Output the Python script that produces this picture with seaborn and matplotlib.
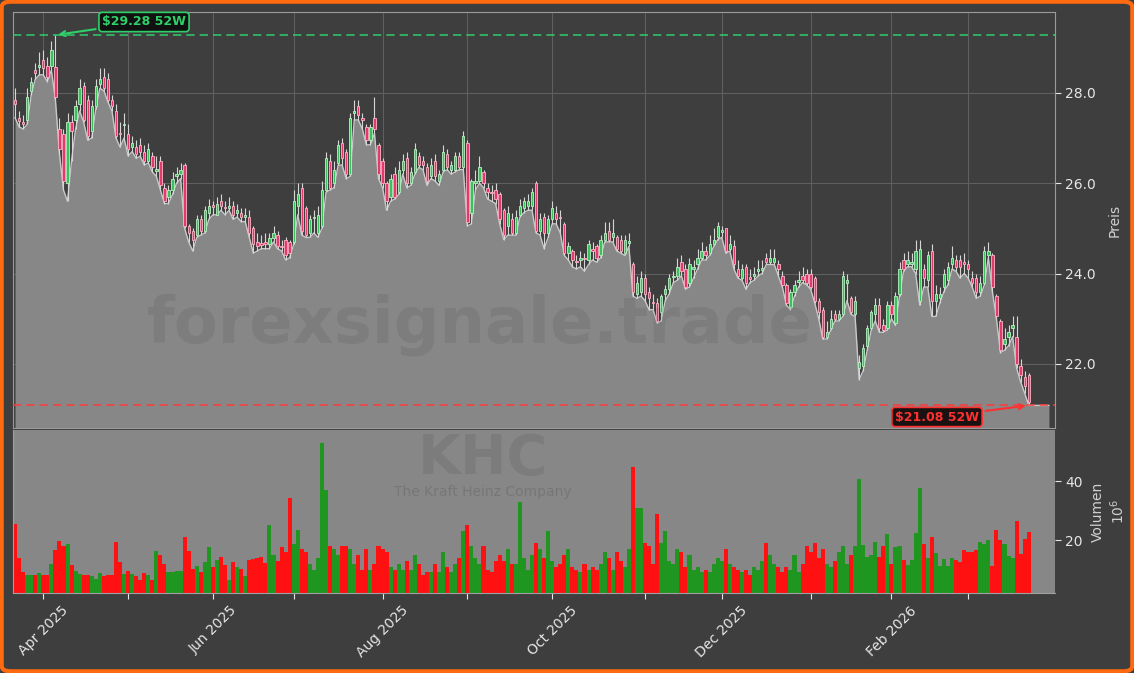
import numpy as np
import pandas as pd
import matplotlib
matplotlib.use("Agg")
import matplotlib.pyplot as plt
from matplotlib.patches import FancyBboxPatch
import seaborn as sns

# ---------------- data ----------------
start_date = "2025-03-21"
end_date = "2026-03-23"
market_holidays = ["2025-04-18", "2025-05-26", "2025-06-19", "2025-07-04", "2025-09-01",
                   "2025-11-27", "2025-12-25", "2026-01-01", "2026-01-19", "2026-02-16"]

opens = [27.85, 27.45, 27.35, 27.40, 28.05, 28.50, 28.58, 28.72, 28.60, 28.60,
         28.58, 27.20, 27.10, 26.00, 27.35, 27.40, 27.75, 28.15, 27.85, 27.15,
         27.70, 28.20, 28.35, 28.30, 27.85, 27.60, 27.12, 27.28, 27.10, 26.80,
         26.80, 26.85, 26.70, 26.50, 26.60, 26.28, 26.50, 25.90, 25.70, 25.85,
         26.15, 26.20, 26.40, 25.05, 24.95, 24.85, 25.20, 24.95, 25.35, 25.52,
         25.30, 25.60, 25.47, 25.45, 25.50, 25.33, 25.35, 25.26, 25.25, 25.00,
         24.70, 24.67, 24.70, 24.65, 24.78, 24.85, 24.62, 24.75, 24.70, 24.70,
         25.50, 25.90, 25.45, 24.90, 25.22, 24.90, 25.05, 25.85, 26.50, 26.00,
         26.45, 26.90, 26.70, 26.20, 27.55, 27.70, 27.45, 27.25, 26.95, 27.45,
         26.85, 26.50, 26.00, 25.70, 26.20, 25.80, 26.30, 26.55, 26.00, 26.25,
         26.60, 26.50, 26.35, 26.15, 26.50, 26.05, 26.30, 26.65, 26.30, 26.30,
         26.60, 26.35, 26.90, 25.35, 26.00, 26.05, 26.25, 25.90, 25.80, 25.85,
         25.75, 25.40, 25.05, 25.20, 24.90, 25.30, 25.45, 25.50, 25.50, 26.00,
         24.95, 25.25, 24.90, 25.20, 25.35, 25.25, 25.10, 24.45, 24.50, 24.28,
         24.30, 24.34, 24.30, 24.55, 24.60, 24.40, 24.75, 24.95, 24.80, 24.80,
         24.75, 24.45, 24.68, 24.20, 23.55, 23.60, 23.90, 23.60, 23.38, 23.35,
         23.15, 23.55, 23.65, 23.92, 23.95, 24.25, 24.10, 23.80, 24.10, 24.20,
         24.35, 24.50, 24.45, 24.65, 24.80, 24.93, 25.00, 24.55, 24.60, 24.10,
         23.90, 24.15, 23.92, 23.95, 24.05, 24.08, 24.35, 24.25, 24.25, 24.20,
         23.95, 23.75, 23.25, 23.60, 23.82, 23.95, 24.00, 24.00, 23.90, 23.40,
         23.20, 22.60, 22.80, 23.10, 23.00, 23.10, 23.80, 23.45, 23.10, 21.90,
         21.95, 22.40, 22.80, 23.10, 23.30, 22.85, 22.80, 23.30, 22.90, 23.55,
         24.30, 24.20, 24.20, 24.10, 23.40, 24.10, 23.85, 24.50, 23.40, 23.45,
         23.70, 23.85, 24.20, 24.30, 24.30, 24.25, 24.20, 23.90, 23.90, 23.60,
         23.80, 24.40, 24.40, 23.50, 22.95, 22.45, 22.60, 22.80, 22.60, 21.95,
         21.70, 21.75]

highs = [28.10, 27.60, 27.50, 28.10, 28.35, 28.65, 28.90, 28.95, 28.80, 29.15,
         29.28, 27.45, 27.20, 27.55, 27.50, 27.85, 28.30, 28.25, 27.95, 27.85,
         28.30, 28.55, 28.55, 28.45, 27.95, 27.75, 27.35, 27.55, 27.30, 27.05,
         26.95, 27.00, 26.85, 26.90, 26.70, 26.60, 26.60, 26.00, 25.95, 26.25,
         26.35, 26.45, 26.45, 25.10, 25.00, 25.30, 25.30, 25.50, 25.65, 25.60,
         25.70, 25.75, 25.60, 25.70, 25.60, 25.55, 25.45, 25.45, 25.40, 25.05,
         24.90, 24.85, 24.90, 24.90, 25.05, 24.95, 24.75, 24.80, 24.75, 25.85,
         26.00, 26.00, 25.50, 25.30, 25.40, 25.50, 26.05, 26.70, 26.65, 26.50,
         26.95, 27.00, 26.75, 27.55, 27.85, 27.85, 27.55, 27.30, 27.30, 27.90,
         26.90, 26.55, 26.05, 26.20, 26.35, 26.50, 26.65, 26.70, 26.35, 26.90,
         26.70, 26.60, 26.45, 26.55, 26.65, 26.30, 26.85, 26.75, 26.50, 26.70,
         26.70, 27.15, 26.95, 26.10, 26.30, 26.60, 26.30, 26.00, 25.95, 26.00,
         25.80, 25.45, 25.50, 25.35, 25.40, 25.65, 25.70, 25.75, 25.90, 26.05,
         25.35, 25.35, 25.30, 25.60, 25.50, 25.40, 25.15, 24.70, 24.55, 24.40,
         24.50, 24.45, 24.75, 24.70, 24.65, 24.85, 25.15, 25.15, 25.20, 24.85,
         24.85, 24.85, 24.90, 24.25, 23.95, 24.05, 24.00, 23.70, 23.55, 23.45,
         23.55, 23.75, 24.00, 24.05, 24.35, 24.40, 24.20, 24.35, 24.30, 24.55,
         24.70, 24.60, 24.85, 25.00, 25.15, 25.05, 25.00, 24.85, 24.75, 24.30,
         24.20, 24.20, 24.10, 24.15, 24.30, 24.30, 24.45, 24.55, 24.55, 24.30,
         24.05, 23.80, 23.65, 23.85, 24.05, 24.15, 24.10, 24.10, 23.95, 23.45,
         23.25, 22.95, 23.20, 23.20, 23.20, 24.05, 24.00, 23.50, 23.50, 22.20,
         22.45, 22.85, 23.20, 23.45, 23.45, 23.00, 23.40, 23.40, 23.60, 24.25,
         24.45, 24.50, 24.45, 24.75, 24.75, 24.20, 24.50, 24.65, 23.75, 23.70,
         24.10, 24.25, 24.60, 24.40, 24.40, 24.45, 24.30, 24.05, 24.00, 23.95,
         24.60, 24.70, 24.45, 23.55, 23.00, 22.80, 22.85, 23.05, 23.05, 22.10,
         21.85, 21.80]

lows = [27.45, 27.25, 27.20, 27.30, 27.95, 28.30, 28.40, 28.40, 28.25, 28.50,
        27.85, 26.65, 25.85, 25.60, 26.50, 27.20, 27.60, 27.35, 26.95, 27.00,
        27.65, 28.10, 28.05, 27.80, 27.60, 27.00, 26.80, 27.00, 26.60, 26.70,
        26.55, 26.60, 26.40, 26.45, 26.25, 26.15, 25.85, 25.55, 25.55, 25.75,
        26.00, 26.10, 25.00, 24.70, 24.50, 24.80, 24.85, 24.90, 25.20, 25.30,
        25.30, 25.40, 25.30, 25.40, 25.20, 25.25, 25.15, 25.15, 24.80, 24.45,
        24.50, 24.55, 24.55, 24.55, 24.70, 24.55, 24.50, 24.30, 24.35, 24.65,
        25.30, 24.85, 24.80, 24.80, 24.90, 24.80, 25.00, 25.80, 25.85, 25.90,
        26.40, 26.40, 26.10, 26.15, 27.40, 27.40, 27.20, 26.85, 26.85, 27.10,
        26.10, 25.90, 25.40, 25.60, 25.65, 25.75, 26.20, 25.90, 25.95, 26.20,
        26.35, 26.30, 25.95, 26.10, 26.05, 25.95, 26.25, 26.30, 26.20, 26.25,
        26.30, 26.30, 25.05, 25.10, 25.85, 26.00, 25.90, 25.65, 25.60, 25.55,
        25.10, 24.75, 24.85, 24.85, 24.85, 25.25, 25.35, 25.40, 25.40, 24.90,
        24.85, 24.55, 24.80, 25.10, 25.10, 24.90, 24.40, 24.30, 24.15, 24.10,
        24.15, 24.05, 24.20, 24.30, 24.25, 24.35, 24.70, 24.70, 24.70, 24.50,
        24.45, 24.40, 24.60, 23.50, 23.45, 23.50, 23.40, 23.20, 23.20, 22.90,
        22.95, 23.40, 23.55, 23.80, 23.85, 23.95, 23.65, 23.70, 23.90, 24.10,
        24.30, 24.30, 24.40, 24.60, 24.75, 24.80, 24.45, 24.50, 24.10, 23.90,
        23.85, 23.65, 23.80, 23.85, 23.95, 24.00, 24.20, 24.20, 24.20, 23.95,
        23.70, 23.30, 23.20, 23.50, 23.70, 23.80, 23.75, 23.65, 23.35, 23.00,
        22.55, 22.55, 22.75, 22.95, 22.95, 23.05, 23.40, 23.10, 23.05, 21.65,
        21.85, 22.30, 22.75, 22.95, 22.70, 22.70, 22.75, 23.00, 22.85, 23.50,
        24.05, 24.15, 24.15, 24.00, 23.30, 23.70, 23.70, 23.05, 23.05, 23.35,
        23.60, 23.75, 24.10, 24.05, 23.90, 24.00, 23.90, 23.70, 23.45, 23.50,
        23.75, 24.35, 23.60, 23.00, 22.25, 22.30, 22.40, 22.60, 21.90, 21.60,
        21.35, 21.08]

closes = [27.75, 27.38, 27.30, 27.90, 28.25, 28.45, 28.60, 28.55, 28.35, 28.95,
          27.90, 26.75, 26.05, 27.35, 27.15, 27.70, 28.10, 27.40, 27.05, 27.70,
          28.15, 28.30, 28.10, 27.85, 27.70, 27.05, 27.08, 27.32, 26.75, 26.90,
          26.65, 26.70, 26.50, 26.75, 26.35, 26.32, 25.95, 25.60, 25.85, 26.10,
          26.20, 26.30, 25.05, 24.90, 24.75, 25.20, 24.95, 25.40, 25.50, 25.48,
          25.55, 25.50, 25.45, 25.50, 25.30, 25.40, 25.25, 25.30, 24.90, 24.65,
          24.60, 24.63, 24.65, 24.78, 24.90, 24.60, 24.58, 24.40, 24.45, 25.60,
          25.75, 24.95, 24.85, 25.20, 25.25, 25.30, 25.85, 26.55, 25.90, 26.30,
          26.85, 26.55, 26.20, 27.45, 27.60, 27.50, 27.40, 26.95, 27.25, 27.20,
          26.20, 26.00, 25.60, 26.10, 25.70, 26.30, 26.50, 26.00, 26.25, 26.75,
          26.40, 26.40, 26.05, 26.40, 26.15, 26.20, 26.70, 26.35, 26.40, 26.60,
          26.35, 27.05, 25.15, 26.05, 26.05, 26.35, 26.00, 25.80, 25.78, 25.65,
          25.20, 24.85, 25.35, 24.90, 25.25, 25.50, 25.60, 25.60, 25.80, 24.95,
          25.20, 24.90, 25.20, 25.45, 25.20, 25.22, 24.45, 24.60, 24.30, 24.25,
          24.35, 24.32, 24.65, 24.50, 24.35, 24.75, 24.90, 24.75, 24.90, 24.55,
          24.50, 24.75, 24.72, 23.60, 23.80, 23.90, 23.55, 23.45, 23.35, 22.95,
          23.50, 23.65, 23.90, 23.95, 24.15, 24.05, 23.70, 24.20, 24.15, 24.35,
          24.50, 24.40, 24.65, 24.75, 25.05, 24.97, 24.50, 24.65, 24.20, 23.95,
          24.10, 23.80, 23.88, 24.00, 24.10, 24.12, 24.25, 24.35, 24.35, 24.10,
          23.75, 23.35, 23.60, 23.75, 23.86, 23.85, 23.80, 23.70, 23.40, 23.15,
          22.60, 22.70, 23.00, 23.00, 23.10, 23.95, 23.85, 23.15, 23.40, 22.05,
          22.35, 22.80, 23.15, 23.30, 22.80, 22.75, 23.30, 23.10, 23.50, 24.10,
          24.10, 24.30, 24.25, 24.50, 24.55, 23.90, 24.40, 23.40, 23.55, 23.55,
          24.00, 24.15, 24.35, 24.15, 24.15, 24.20, 24.10, 23.80, 23.60, 23.80,
          24.50, 24.50, 23.70, 23.05, 22.30, 22.55, 22.70, 22.85, 22.00, 21.75,
          21.50, 21.15]

volumes_mio = [25.4, 13.9, 9.1, 8.2, 8.2, 8.2, 8.8, 8.2, 8.2, 11.9,
               16.7, 19.7, 18.0, 18.7, 11.6, 9.6, 8.4, 8.0, 8.2, 7.9,
               6.9, 8.8, 7.7, 8.1, 8.2, 19.4, 12.6, 8.6, 9.6, 8.6,
               7.9, 6.5, 8.9, 8.2, 6.5, 16.3, 15.0, 11.9, 9.2, 9.0,
               9.6, 9.6, 21.2, 16.3, 10.2, 11.3, 9.2, 12.6, 17.7, 10.7,
               13.3, 14.4, 11.7, 6.5, 12.6, 11.0, 10.2, 7.7, 13.1, 13.5,
               14.0, 14.1, 12.3, 25.2, 15.0, 13.0, 17.8, 16.0, 34.2, 18.7,
               23.5, 16.9, 16, 12, 10, 14, 53, 37, 18, 17,
               15, 18, 18, 17, 12, 15, 10, 17, 10, 12,
               18, 17, 16, 11, 10, 12, 10, 13, 10, 15,
               12, 8, 9, 9, 12, 9, 16, 11, 9, 12,
               14, 23, 25, 18, 14, 12, 18, 10, 9, 13,
               15, 13, 17, 12, 12, 33, 14, 10, 15, 19,
               17, 14, 23, 13, 11, 12, 15, 17, 11, 10,
               9, 12, 10, 11, 10, 12, 16, 14, 10, 16,
               13, 11, 17, 45, 31, 31, 19, 18, 12, 29,
               19, 23, 13, 12, 17, 16, 11, 15, 10, 11,
               9, 10, 9, 12, 14, 13, 17, 12, 11, 10,
               9, 10, 8, 11, 10, 13, 19, 15, 12, 11,
               9, 11, 10, 15, 9, 12, 18, 16, 19, 14,
               17, 12, 11, 13, 16, 18, 12, 14.9, 18.0, 40.9,
               18.5, 14.4, 14.9, 19.2, 14.4, 18.0, 22.0, 11.9, 17.7, 18.0,
               13.3, 11.6, 13.3, 22.3, 37.9, 18.7, 13.8, 21.2, 15.5, 11.3,
               13.5, 11.3, 13.8, 13.3, 12.4, 16.7, 16.1, 15.9, 16.7, 19.2,
               18.7, 20.0, 11.2, 23.5, 20.0, 18.8, 14.6, 14.0, 26.4, 15.4,
               20.5, 22.8]

high_52w = 29.28
low_52w = 21.08
ticker = "KHC"
company = "The Kraft Heinz Company"
watermark = "forexsignale.trade"

# ---------------- build frame ----------------
n = len(closes)
cal = pd.offsets.CustomBusinessDay(holidays=market_holidays)
dates = pd.date_range(start_date, end_date, freq=cal)[:n]
df = pd.DataFrame({"idx": np.arange(n), "open": opens, "high": highs, "low": lows,
                   "close": closes, "vol": volumes_mio})
df["dir"] = np.where(df["close"] >= df["open"], "up", "down")

BG = "#3e3e3e"
FILL = "#878787"
TXT = "#e6e6e6"
GREEN_C = "#3cbf5c"
RED_C = "#e23a6c"

plt.rcParams["font.family"] = ["DejaVu Sans"]
fig = plt.figure(figsize=(11.34, 6.73), dpi=100, facecolor=BG)
W, H = 1134, 673
ax1 = fig.add_axes([13 / W, 1 - 428 / H, (1055 - 13) / W, (428 - 12) / H])
ax2 = fig.add_axes([13 / W, 1 - 593 / H, (1055 - 13) / W, (593 - 430) / H])
ax1.set_facecolor(BG)
ax2.set_facecolor(FILL)

ylo, yhi = 20.58, 29.79
xlo, xhi = -0.5, 257.5

# price: low area
xf = np.append(df["idx"].values, 256)
lf = np.append(df["low"].values, df["low"].values[-1])
ax1.fill_between(xf, lf, ylo, color=FILL, zorder=2, linewidth=0)
sns.lineplot(x=xf, y=lf, ax=ax1, color="#c9c9c9", linewidth=1.0, zorder=2.5)

# candles
up = df["close"] >= df["open"]
ax1.vlines(df["idx"], df["low"], df["high"], color="#d6d6d6", linewidth=0.8, zorder=3)
body_h = np.maximum((df["close"] - df["open"]).abs(), 0.03)
body_b = np.minimum(df["open"], df["close"])
ax1.bar(df["idx"][up], body_h[up], bottom=body_b[up], width=0.58,
        color=GREEN_C, edgecolor="#b8f2c4", linewidth=0.6, zorder=4)
ax1.bar(df["idx"][~up], body_h[~up], bottom=body_b[~up], width=0.58,
        color=RED_C, edgecolor="#ffb3c6", linewidth=0.6, zorder=4)

# 52 week lines
ax1.axhline(high_52w, color="#2fcf6a", linestyle=(0, (5, 3)), linewidth=1.2, alpha=0.9, zorder=5)
ax1.axhline(low_52w, color="#ff3b3b", linestyle=(0, (5, 3)), linewidth=1.2, alpha=0.9, zorder=5)
i_hi = int(np.argmax(df["high"].values))
i_lo = int(np.argmin(df["low"].values))
ax1.annotate(r"\$%.2f 52W" % high_52w, xy=(i_hi, high_52w), xytext=(144, H - 22),
             textcoords="figure pixels", ha="center", va="center",
             fontsize=9, fontweight="bold", color="#2fcf6a", zorder=8,
             bbox=dict(boxstyle="round,pad=0.25", fc="#111111", ec="#2fcf6a", lw=1.2),
             arrowprops=dict(arrowstyle="->", color="#2fcf6a", lw=1.5))
ax1.annotate(r"\$%.2f 52W" % low_52w, xy=(i_lo, low_52w), xytext=(937, H - 417),
             textcoords="figure pixels", ha="center", va="center",
             fontsize=9, fontweight="bold", color="#ff3030", zorder=8,
             bbox=dict(boxstyle="round,pad=0.25", fc="#1a1111", ec="#ff3030", lw=1.2),
             arrowprops=dict(arrowstyle="->", color="#ff3030", lw=1.5))

# volume bars with seaborn
sns.barplot(data=df, x="idx", y="vol", hue="dir", palette={"up": "#1f961f", "down": "#ff1111"},
            dodge=False, width=1.0, linewidth=0, saturation=1, legend=False, ax=ax2)

# month ticks
month_pos, month_lab = [], []
prev = None
for i, d in enumerate(dates):
    if prev is not None and d.month != prev:
        month_pos.append(i)
        month_lab.append(d.strftime("%b %Y") if d.month % 2 == 0 else "")
    prev = d.month

for ax in (ax1, ax2):
    ax.set_xlim(xlo, xhi)
    ax.set_xticks(month_pos)
ax1.set_ylim(ylo, yhi)
ax2.set_ylim(2.0, 57.5)

ax1.set_xticklabels([])
ax1.tick_params(axis="x", length=0, labelbottom=False)
ax1.yaxis.tick_right()
ax1.set_yticks([22, 24, 26, 28])
ax1.set_yticklabels(["22.0", "24.0", "26.0", "28.0"])
ax1.tick_params(axis="y", colors=TXT, labelsize=10, length=4, width=0.8)
ax1.yaxis.set_label_position("right")
ax1.set_ylabel("Preis", color="#d0d0d0", fontsize=10, labelpad=8)
ax1.set_xlabel("")
ax1.grid(True, color="#5f5f5f", linewidth=0.8)
ax1.set_axisbelow(True)
for s in ax1.spines.values():
    s.set_color("#9a9a9a")
    s.set_linewidth(0.8)

ax2.set_xticklabels(month_lab, rotation=45, ha="center")
ax2.tick_params(axis="x", colors=TXT, labelsize=10, length=4, width=0.8)
ax2.yaxis.tick_right()
ax2.set_yticks([20, 40])
ax2.set_yticklabels(["20", "40"])
ax2.tick_params(axis="y", colors=TXT, labelsize=10, length=4, width=0.8)
ax2.yaxis.set_label_position("right")
ax2.set_ylabel("Volumen\n$10^6$", color="#d0d0d0", fontsize=10, labelpad=6)
ax2.set_xlabel("")
ax2.grid(False)
for k, s in ax2.spines.items():
    s.set_color("#a0a0a0")
    s.set_linewidth(0.8)
    if k in ("top", "right"):
        s.set_visible(False)

# watermarks
fig.text(480 / W, 1 - 325 / H, watermark, ha="center", va="center", fontsize=46,
         fontweight="bold", color="black", alpha=0.07)
fig.text(483 / W, 1 - 459 / H, ticker, ha="center", va="center", fontsize=40,
         fontweight="bold", color="black", alpha=0.08)
fig.text(483 / W, 1 - 492 / H, company, ha="center", va="center", fontsize=10,
         color="black", alpha=0.12)

# orange frame
fig.patches.append(FancyBboxPatch((0.0015, 0.0025), 0.997, 0.995,
                                  boxstyle="round,pad=0,rounding_size=0.008",
                                  transform=fig.transFigure, fill=False,
                                  edgecolor="#ff6a10", linewidth=3))

fig.savefig("out.png", dpi=100, facecolor=BG)
